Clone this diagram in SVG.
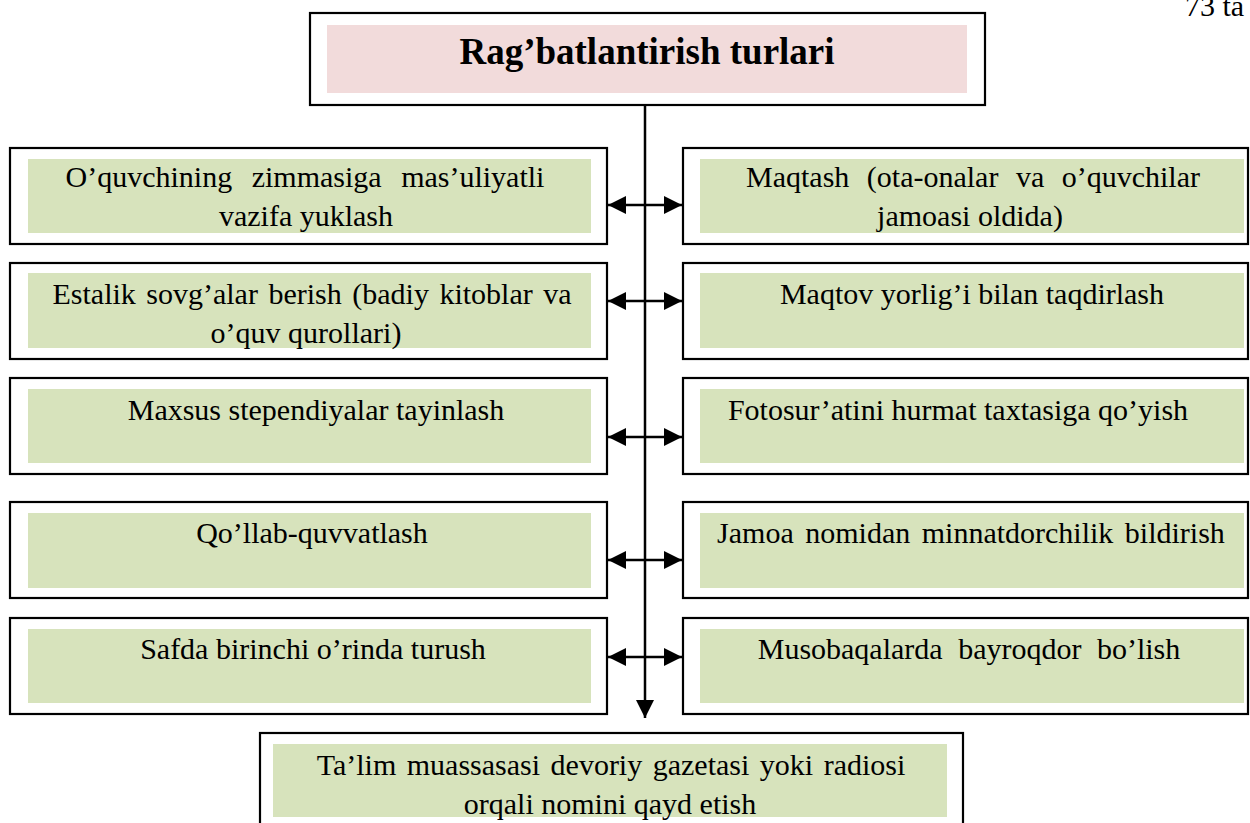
<svg xmlns="http://www.w3.org/2000/svg" width="1250" height="823" viewBox="0 0 1250 823">
<style>
.outer{fill:#fff;stroke:#000;stroke-width:2.2}
.title{fill:#F2DBDB}
.inner{fill:#D7E3BC}
.t{font-family:"Liberation Serif","Times New Roman",serif;font-size:30px;fill:#000;text-anchor:middle}
.tb{font-family:"Liberation Serif","Times New Roman",serif;font-size:37px;font-weight:bold;fill:#000;text-anchor:middle}
.c{stroke:#000;stroke-width:2.5;fill:none}
</style>
<defs>
<marker id="ah" markerUnits="userSpaceOnUse" markerWidth="18" markerHeight="18" viewBox="0 0 16 16" refX="16" refY="8" orient="auto-start-reverse">
<path d="M0,0 L16,8 L0,16 Z" fill="#000"/>
</marker>
</defs>
<rect width="1250" height="823" fill="#fff"/>
<text x="1185" y="16" class="t" style="text-anchor:start">73 ta</text>

<g id="title">
<rect class="outer" x="310" y="13" width="675" height="92"/>
<rect class="title" x="327" y="25" width="640" height="68"/>
<text class="tb" x="647" y="64">Rag’batlantirish turlari</text>
</g>

<g id="connectors">
<line class="c" x1="645" y1="105" x2="645" y2="718" marker-end="url(#ah)"/>
<line class="c" x1="608" y1="205" x2="682" y2="205" marker-start="url(#ah)" marker-end="url(#ah)"/>
<line class="c" x1="608" y1="301" x2="682" y2="301" marker-start="url(#ah)" marker-end="url(#ah)"/>
<line class="c" x1="608" y1="437" x2="682" y2="437" marker-start="url(#ah)" marker-end="url(#ah)"/>
<line class="c" x1="608" y1="560" x2="682" y2="560" marker-start="url(#ah)" marker-end="url(#ah)"/>
<line class="c" x1="608" y1="657" x2="682" y2="657" marker-start="url(#ah)" marker-end="url(#ah)"/>
</g>

<g id="l1">
<rect class="outer" x="10" y="148" width="597" height="96"/>
<rect class="inner" x="28" y="159" width="563" height="74"/>
<text class="t" x="305" y="187" word-spacing="12">O’quvchining zimmasiga mas’uliyatli</text>
<text class="t" x="306" y="226">vazifa yuklash</text>
</g>
<g id="r1">
<rect class="outer" x="683" y="148" width="565" height="96"/>
<rect class="inner" x="700" y="159" width="544" height="74"/>
<text class="t" x="973" y="187" word-spacing="10">Maqtash (ota-onalar va o’quvchilar</text>
<text class="t" x="970" y="226">jamoasi oldida)</text>
</g>

<g id="l2">
<rect class="outer" x="10" y="263" width="597" height="96"/>
<rect class="inner" x="28" y="273" width="563" height="75"/>
<text class="t" x="312" y="304" word-spacing="3">Estalik sovg’alar berish (badiy kitoblar va</text>
<text class="t" x="306" y="343">o’quv qurollari)</text>
</g>
<g id="r2">
<rect class="outer" x="683" y="263" width="565" height="96"/>
<rect class="inner" x="700" y="273" width="544" height="75"/>
<text class="t" x="972" y="304">Maqtov yorlig’i bilan taqdirlash</text>
</g>

<g id="l3">
<rect class="outer" x="10" y="378" width="597" height="96"/>
<rect class="inner" x="28" y="389" width="563" height="74"/>
<text class="t" x="316" y="420">Maxsus stependiyalar tayinlash</text>
</g>
<g id="r3">
<rect class="outer" x="683" y="378" width="565" height="96"/>
<rect class="inner" x="700" y="389" width="544" height="74"/>
<text class="t" x="958" y="420">Fotosur’atini hurmat taxtasiga qo’yish</text>
</g>

<g id="l4">
<rect class="outer" x="10" y="502" width="597" height="96"/>
<rect class="inner" x="28" y="513" width="563" height="75"/>
<text class="t" x="312" y="543">Qo’llab-quvvatlash</text>
</g>
<g id="r4">
<rect class="outer" x="683" y="502" width="565" height="96"/>
<rect class="inner" x="700" y="513" width="544" height="75"/>
<text class="t" x="971" y="543" word-spacing="4">Jamoa nomidan minnatdorchilik bildirish</text>
</g>

<g id="l5">
<rect class="outer" x="10" y="618" width="597" height="96"/>
<rect class="inner" x="28" y="629" width="563" height="74"/>
<text class="t" x="313" y="659">Safda birinchi o’rinda turush</text>
</g>
<g id="r5">
<rect class="outer" x="683" y="618" width="565" height="96"/>
<rect class="inner" x="700" y="629" width="544" height="74"/>
<text class="t" x="969" y="659" word-spacing="8">Musobaqalarda bayroqdor bo’lish</text>
</g>

<g id="b">
<rect class="outer" x="260" y="733" width="703" height="100"/>
<rect class="inner" x="273" y="744" width="674" height="73"/>
<text class="t" x="611" y="775" word-spacing="3">Ta’lim muassasasi devoriy gazetasi yoki radiosi</text>
<text class="t" x="610" y="814">orqali nomini qayd etish</text>
</g>
</svg>
